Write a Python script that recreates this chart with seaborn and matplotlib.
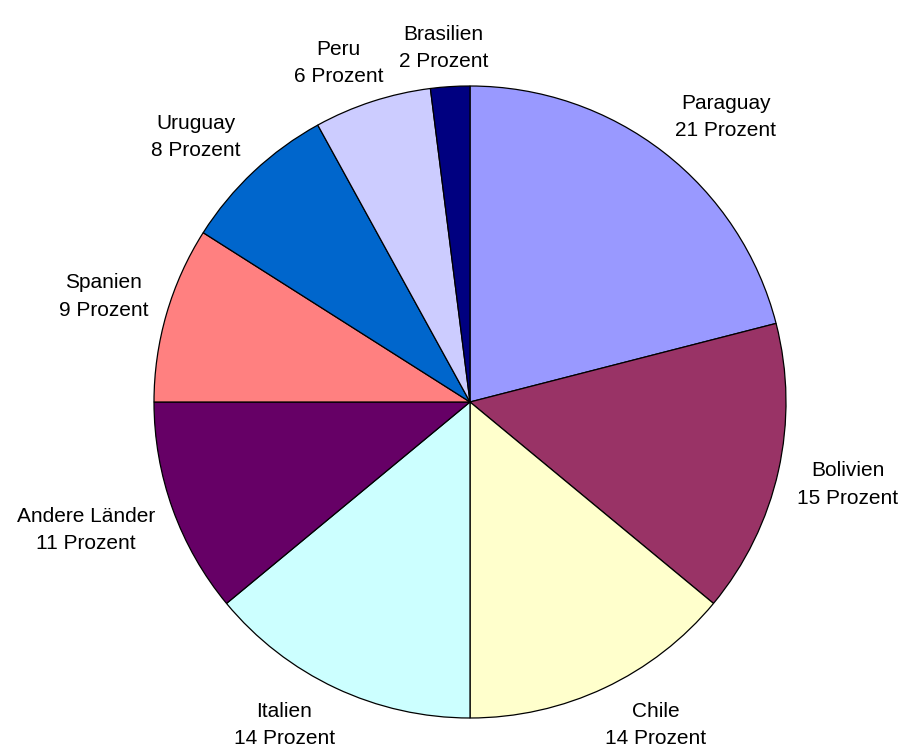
import numpy as np
import matplotlib
matplotlib.use("Agg")
import matplotlib.pyplot as plt
import seaborn as sns

# Daten: Anteile nach Herkunftsland (im Uhrzeigersinn ab 12 Uhr)
laender = ["Paraguay", "Bolivien", "Chile", "Italien", "Andere Länder",
           "Spanien", "Uruguay", "Peru", "Brasilien"]
anteile = [21, 15, 14, 14, 11, 9, 8, 6, 2]
farben = ["#9999FF", "#993366", "#FFFFCC", "#CCFFFF", "#660066",
          "#FF8080", "#0066CC", "#CCCCFF", "#000080"]

sns.set_theme(style="white")
plt.rcParams["font.family"] = ["Liberation Sans", "DejaVu Sans"]

fig = plt.figure(figsize=(9.03, 7.56), dpi=100)
ax = fig.add_axes([0, 0, 1, 1])

wedges, _ = ax.pie(anteile, colors=farben, startangle=90, counterclock=False,
                   wedgeprops=dict(edgecolor="black", linewidth=0.9))

# radius 1 -> 316 px, mitte bei (470, 402) px
px = 316
ax.set_xlim(-470 / px, (903 - 470) / px)
ax.set_ylim(-(756 - 402) / px, 402 / px)
ax.set_aspect("auto")
ax.axis("off")

fig.canvas.draw()
rend = fig.canvas.get_renderer()

# beschriftungen aussen, box an den kreis angelehnt (wie excel)
for w, land, p in zip(wedges, laender, anteile):
    theta = np.deg2rad((w.theta1 + w.theta2) / 2)
    t = ax.text(0, 0, f"{land}\n{p} Prozent", ha="center", va="center",
                fontsize=15, linespacing=1.55, color="black")
    bb = t.get_window_extent(rend)
    wd = bb.width / px
    ht = bb.height / px
    fx = np.clip(2 * np.cos(theta), -1, 1)
    fy = np.clip(2 * np.sin(theta), -1, 1)
    x = 1.06 * np.cos(theta) + wd / 2 * fx
    y = 1.05 * np.sin(theta) + ht / 2 * fy
    t.set_position((x, y))

fig.savefig("out.png", dpi=100, facecolor="white")
